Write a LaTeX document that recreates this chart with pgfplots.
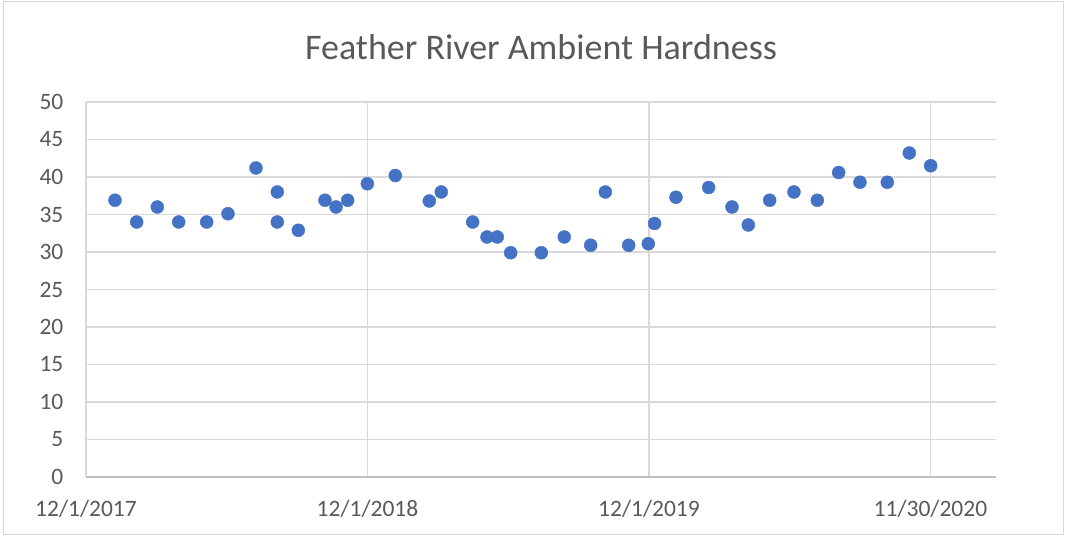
\documentclass[border=0pt]{standalone}
\usepackage{pgfplots}
\pgfplotsset{compat=1.18}
\usepackage{fontspec}
\setmainfont{Carlito}
\definecolor{ptblue}{HTML}{4472C4}
\definecolor{lbl}{HTML}{595959}
\definecolor{gridc}{HTML}{D9D9D9}
\definecolor{axc}{HTML}{BFBFBF}
\begin{document}
\begin{tikzpicture}[x=1pt,y=1pt]
\useasboundingbox (0,0) rectangle (1066,537);
\draw[color=gridc, line width=1pt] (3,2) rectangle (1063,535);
\node[text=lbl, font=\fontsize{36}{42}\selectfont] at (541,490) {Feather River Ambient Hardness};
\begin{axis}[
  at={(86pt,60pt)}, anchor=south west,
  scale only axis, width=910pt, height=375pt,
  xmin=0, xmax=1180, ymin=0, ymax=50,
  ytick={0,5,...,50},
  xtick={0,365,730,1095},
  xticklabels={12/1/2017,12/1/2018,12/1/2019,11/30/2020},
  grid=major,
  major grid style={draw=gridc, line width=1.2pt},
  axis x line=bottom, axis y line=left,
  x axis line style={-, draw=axc, line width=1.4pt},
  y axis line style={-, draw=gridc, line width=1.2pt},
  tick style={draw=none},
  ticklabel style={text=lbl, font=\fontsize{23.5}{28}\selectfont},
  /pgf/number format/assume math mode=true,
  yticklabel style={xshift=-17pt},
  xticklabel style={yshift=-18pt},
  clip=false,
]
\addplot[only marks, mark=*, mark size=6.5pt, mark options={fill=ptblue, draw=ptblue}] coordinates {
(37.6,36.9) (65.7,34.0) (92.5,36.0) (120.2,34.0) (156.5,34.0) (184.1,35.1)
(220.4,41.2) (248,38.0) (248,34.0) (275.3,32.9) (309.9,36.9) (324.2,36.0)
(339.3,36.9) (364.8,39.1) (401.1,40.2) (445.2,36.8) (460.7,38.0) (501.4,34.0)
(520,32.0) (533.3,32.0) (550.7,29.9) (590.4,29.9) (620.2,32.0) (654.4,30.9)
(673.4,38.0) (703.7,30.9) (729.1,31.1) (737.2,33.8) (765,37.3) (807.4,38.6)
(837.7,36.0) (858.8,33.6) (886.5,36.9) (918,38.0) (948.3,36.9) (976,40.6)
(1003.6,39.3) (1039,39.3) (1067.6,43.2) (1095.3,41.5)
};
\end{axis}
\end{tikzpicture}
\end{document}
